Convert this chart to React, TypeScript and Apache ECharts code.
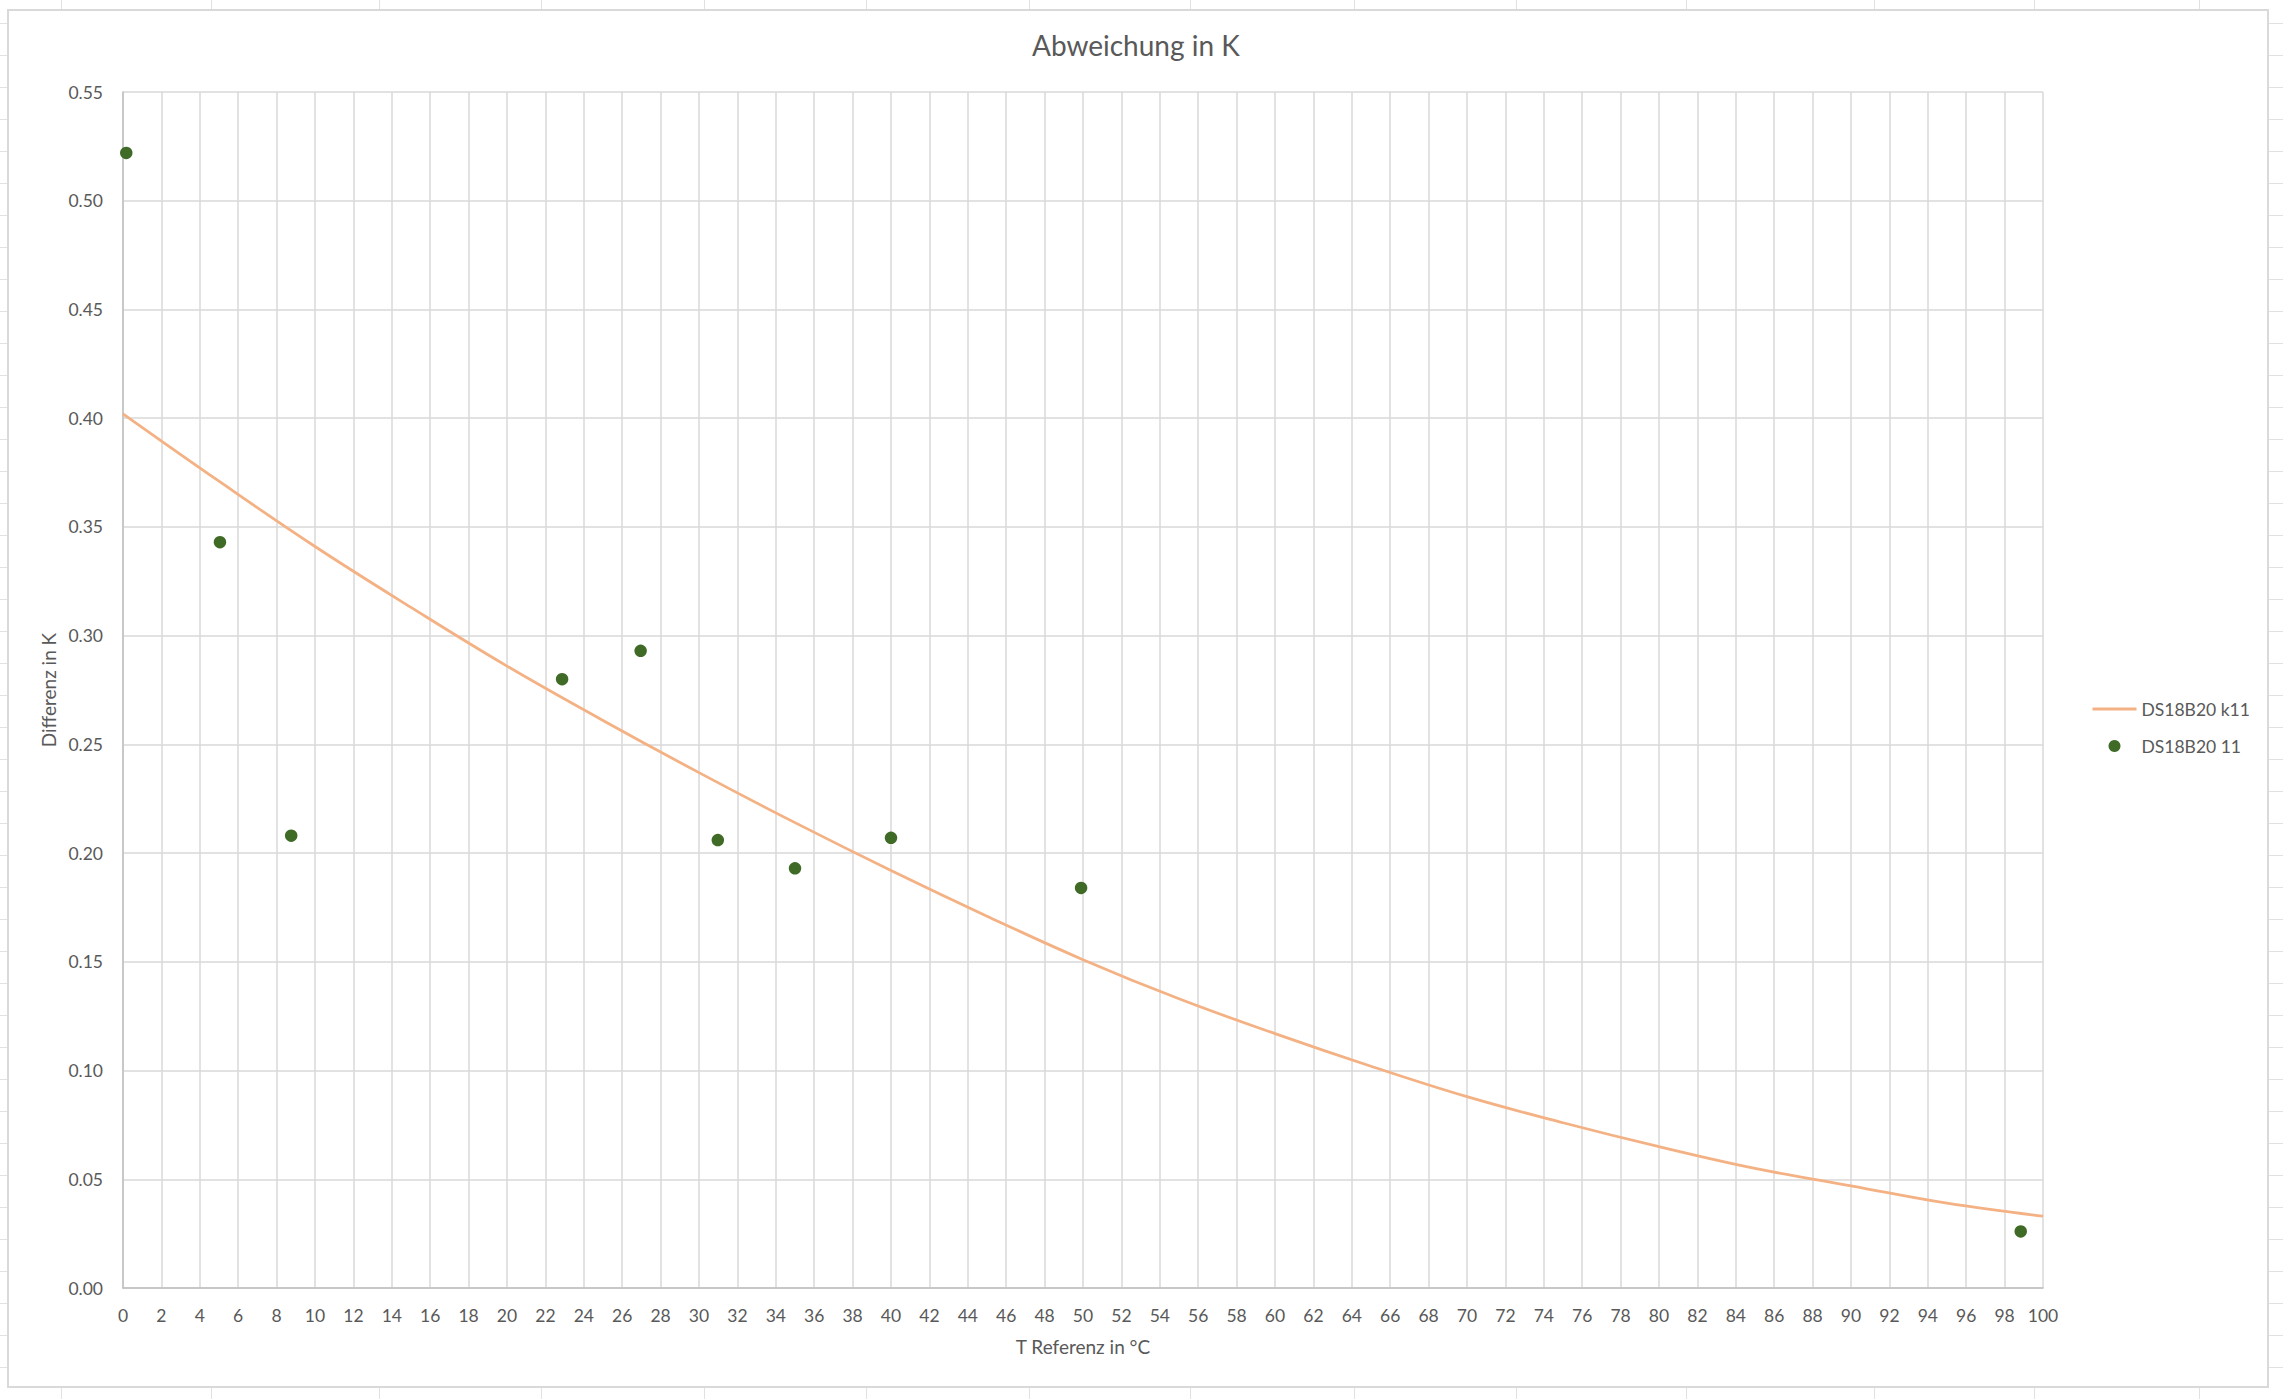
import React, { useEffect, useRef } from "react";
import * as echarts from "echarts";

const W = 2283;
const H = 1399;

const titleText = "Abweichung in K";
const xAxisName = "T Referenz in °C";
const yAxisName = "Differenz in K";
const lineSeriesName = "DS18B20 k11";
const scatterSeriesName = "DS18B20 11";

// trend line
const trendX = [0, 5, 10, 15, 20, 25, 30, 35, 40, 45, 50, 55, 60, 65, 70, 75, 80, 85, 90, 95, 100];
const trendY = [0.402, 0.371, 0.341, 0.313, 0.286, 0.261, 0.237, 0.214, 0.192, 0.171, 0.151, 0.133, 0.117, 0.102, 0.088, 0.076, 0.065, 0.055, 0.047, 0.039, 0.033];

// measured points
const measuredX = [0.17, 5.05, 8.76, 22.87, 26.96, 30.98, 35.0, 40.0, 49.9, 98.84];
const measuredY = [0.522, 0.343, 0.208, 0.28, 0.293, 0.206, 0.193, 0.207, 0.184, 0.026];

// spreadsheet backdrop (decoration)
const sheetColumns = [61, 211, 379, 541, 704, 866, 1029, 1190, 1354, 1516, 1686, 1874, 2034, 2199];
const sheetRowStart = 23;
const sheetRowStep = 32;

const FONT = "Lato, 'Open Sans', sans-serif";
const TEXT = "#595959";

export default function App() {
  const ref = useRef<HTMLDivElement>(null);

  useEffect(() => {
    document.body.style.margin = "0";
    if (!ref.current) return;
    const chart = echarts.init(ref.current, null, { renderer: "svg", width: W, height: H });

    const box = { l: 8, t: 10, r: 2268, b: 1387 };
    const graphics: any[] = [];
    const lineStyle = { stroke: "#e1e1e1", lineWidth: 1 };
    for (const cx of sheetColumns) {
      const x = cx + 0.5;
      graphics.push({ type: "line", silent: true, shape: { x1: x, y1: 0, x2: x, y2: box.t }, style: lineStyle });
      graphics.push({ type: "line", silent: true, shape: { x1: x, y1: box.b, x2: x, y2: H }, style: lineStyle });
    }
    for (let y = sheetRowStart; y < H; y += sheetRowStep) {
      const yy = y + 0.5;
      graphics.push({ type: "line", silent: true, shape: { x1: 0, y1: yy, x2: box.l, y2: yy }, style: lineStyle });
      graphics.push({ type: "line", silent: true, shape: { x1: box.r, y1: yy, x2: W, y2: yy }, style: lineStyle });
    }
    graphics.push({
      type: "rect",
      silent: true,
      shape: { x: box.l, y: box.t, width: box.r - box.l, height: box.b - box.t },
      style: { fill: "transparent", stroke: "#d9d9d9", lineWidth: 2 },
    });

    chart.setOption({
      animation: false,
      backgroundColor: "#ffffff",
      textStyle: { fontFamily: FONT, color: TEXT },
      graphic: graphics,
      title: {
        text: titleText,
        left: 1032,
        top: 31,
        padding: 0,
        textStyle: { fontFamily: FONT, fontSize: 28, fontWeight: "normal", color: TEXT },
      },
      legend: {
        orient: "vertical",
        left: 2091,
        top: 700,
        padding: 0,
        itemWidth: 44,
        itemHeight: 12,
        itemGap: 19,
        textStyle: { fontFamily: FONT, fontSize: 17.5, color: TEXT, lineHeight: 18, padding: [0, 0, 0, 0] },
        data: [
          { name: lineSeriesName, itemStyle: { opacity: 0, color: "transparent" }, lineStyle: { width: 3 } },
          { name: scatterSeriesName },
        ],
      },
      grid: { left: 123, top: 92, right: W - 2043, bottom: H - 1288, containLabel: false },
      xAxis: {
        type: "value",
        min: 0,
        max: 100,
        interval: 2,
        name: xAxisName,
        nameLocation: "middle",
        nameGap: 49,
        nameTextStyle: { fontFamily: FONT, fontSize: 19, color: TEXT },
        axisLine: { show: true, lineStyle: { color: "#bfbfbf", width: 1.5 } },
        axisTick: { show: false },
        axisLabel: { fontFamily: FONT, fontSize: 17.5, color: TEXT, margin: 18 },
        splitLine: { show: true, lineStyle: { color: "#d9d9d9", width: 1.5 } },
      },
      yAxis: {
        type: "value",
        min: 0,
        max: 0.55,
        interval: 0.05,
        name: yAxisName,
        nameLocation: "middle",
        nameGap: 64,
        nameTextStyle: { fontFamily: FONT, fontSize: 19, color: TEXT },
        axisLine: { show: true, lineStyle: { color: "#bfbfbf", width: 1.5 } },
        axisTick: { show: false },
        axisLabel: {
          fontFamily: FONT,
          fontSize: 17.5,
          color: TEXT,
          margin: 20,
          formatter: (v: number) => v.toFixed(2),
        },
        splitLine: { show: true, lineStyle: { color: "#d9d9d9", width: 1.5 } },
      },
      series: [
        {
          name: lineSeriesName,
          type: "line",
          data: trendX.map((x, i) => [x, trendY[i]]),
          smooth: 0.4,
          symbol: "none",
          showSymbol: false,
          lineStyle: { color: "#f4b183", width: 2.75 },
          itemStyle: { color: "#f4b183" },
          z: 2,
        },
        {
          name: scatterSeriesName,
          type: "scatter",
          data: measuredX.map((x, i) => [x, measuredY[i]]),
          symbol: "circle",
          symbolSize: 12.5,
          itemStyle: { color: "#3f6b27", opacity: 1 },
          z: 3,
        },
      ],
    });

    return () => {
      chart.dispose();
    };
  }, []);

  return <div ref={ref} style={{ width: W, height: H }} />;
}
